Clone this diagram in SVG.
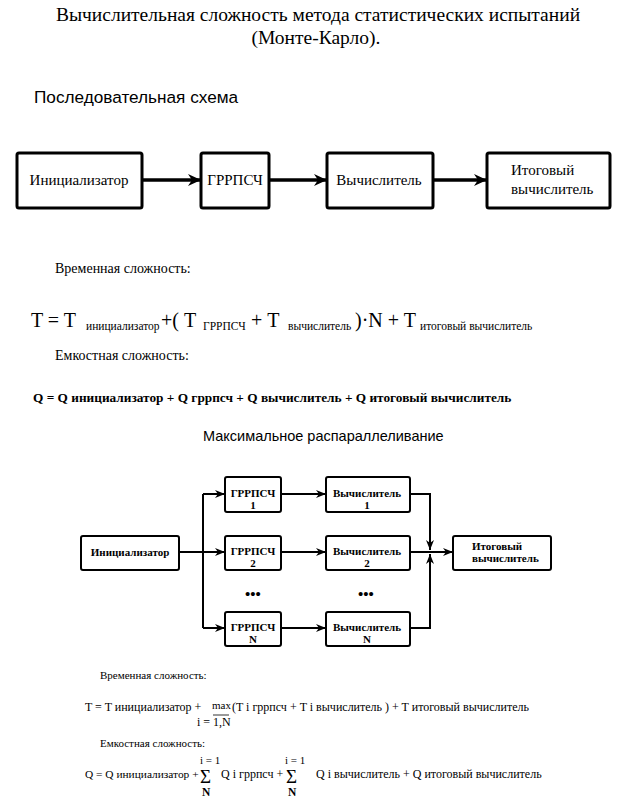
<svg xmlns="http://www.w3.org/2000/svg" width="624" height="797" viewBox="0 0 624 797">
<defs>
<marker id="ah" markerUnits="userSpaceOnUse" markerWidth="14" markerHeight="12" refX="13" refY="6" orient="auto">
<path d="M0,0 L13,6 L0,12 L4,6 z" fill="#000"/>
</marker>
<marker id="ahs" markerUnits="userSpaceOnUse" markerWidth="10" markerHeight="8" refX="10" refY="4" orient="auto">
<path d="M0,0 L10,4 L0,8 L3,4 z" fill="#000"/>
</marker>
</defs>
<style>
.serif{font-family:"Liberation Serif","Times New Roman",serif;fill:#000}
.sans{font-family:"Liberation Sans",Arial,sans-serif;fill:#000}
.b1{fill:#fff;stroke:#000;stroke-width:3}
.b2{fill:#fff;stroke:#000;stroke-width:2}
.c1{stroke:#000;stroke-width:3.5;fill:none}
.c2{stroke:#000;stroke-width:2;fill:none}
.t15{font-size:15px}
.t11{font-size:11px;font-weight:bold}
.mid{text-anchor:middle}
</style>
<rect width="624" height="797" fill="#fff"/>

<g id="title" class="serif" font-size="19.5">
<text x="318" y="21" class="mid">Вычислительная сложность метода статистических испытаний</text>
<text x="316" y="44" class="mid">(Монте-Карло).</text>
</g>
<text class="sans" x="34" y="103" font-size="17.2">Последовательная схема</text>

<g id="connectors-top">
<path class="c1" d="M142,180 H201" marker-end="url(#ah)"/>
<path class="c1" d="M269,180 H327" marker-end="url(#ah)"/>
<path class="c1" d="M433,180 H487" marker-end="url(#ah)"/>
</g>
<g id="s-init"><rect class="b1" x="17" y="153" width="125" height="55" rx="2"/><text class="serif t15 mid" x="79" y="185">Инициализатор</text></g>
<g id="s-gen"><rect class="b1" x="201" y="153" width="68" height="55" rx="2"/><text class="serif t15 mid" x="235" y="185">ГРРПСЧ</text></g>
<g id="s-calc"><rect class="b1" x="327" y="153" width="106" height="55" rx="2"/><text class="serif t15 mid" x="379" y="185">Вычислитель</text></g>
<g id="s-final"><rect class="b1" x="487" y="153" width="123" height="55" rx="2"/><text class="serif t15" x="511" y="175">Итоговый</text><text class="serif t15" x="511" y="194">вычислитель</text></g>

<g id="formulas-top" class="serif">
<text x="55" y="273" font-size="14">Временная сложность:</text>
<text y="327" font-size="20"><tspan x="31">T = T</tspan><tspan x="86" y="330" font-size="11.5">инициализатор</tspan><tspan x="161" y="327">+( T</tspan><tspan x="203" y="330" font-size="11.5">ГРРПСЧ</tspan><tspan x="251" y="327">+ T</tspan><tspan x="288" y="330" font-size="11.5">вычислитель</tspan><tspan x="355" y="327">)·N + T</tspan><tspan x="420" y="330" font-size="11.5">итоговый вычислитель</tspan></text>
<text x="55" y="360" font-size="14">Емкостная сложность:</text>
<text x="33" y="402" font-size="13.3" font-weight="bold">Q = Q инициализатор + Q гррпсч + Q вычислитель + Q итоговый вычислитель</text>
</g>

<text class="sans" x="203" y="441" font-size="14.5">Максимальное распараллеливание</text>

<g id="connectors-par">
<path class="c2" d="M179,552 H225" marker-end="url(#ahs)"/>
<path class="c2" d="M203,494 V628"/>
<path class="c2" d="M203,494 H225" marker-end="url(#ahs)"/>
<path class="c2" d="M203,628 H225" marker-end="url(#ahs)"/>
<path class="c2" d="M281,494 H326" marker-end="url(#ahs)"/>
<path class="c2" d="M281,552 H326" marker-end="url(#ahs)"/>
<path class="c2" d="M281,628 H326" marker-end="url(#ahs)"/>
<path class="c2" d="M410,494 H430 V550" marker-end="url(#ahs)"/>
<path class="c2" d="M410,628 H430 V554" marker-end="url(#ahs)"/>
<path class="c2" d="M410,552 H453" marker-end="url(#ahs)"/>
</g>
<g id="p-init"><rect class="b2" x="81" y="536" width="98" height="34" rx="2"/><text class="serif t11 mid" x="130" y="556">Инициализатор</text></g>
<g id="p-gen1"><rect class="b2" x="225" y="477" width="56" height="35" rx="2"/><text class="serif t11 mid" x="253" y="497">ГРРПСЧ</text><text class="serif t11 mid" x="253" y="509">1</text></g>
<g id="p-gen2"><rect class="b2" x="225" y="536" width="56" height="34" rx="2"/><text class="serif t11 mid" x="253" y="555">ГРРПСЧ</text><text class="serif t11 mid" x="253" y="567">2</text></g>
<g id="p-genN"><rect class="b2" x="225" y="612" width="56" height="34" rx="2"/><text class="serif t11 mid" x="253" y="631">ГРРПСЧ</text><text class="serif t11 mid" x="253" y="643">N</text></g>
<g id="p-calc1"><rect class="b2" x="326" y="477" width="84" height="35" rx="2"/><text class="serif t11 mid" x="367" y="497">Вычислитель</text><text class="serif t11 mid" x="367" y="509">1</text></g>
<g id="p-calc2"><rect class="b2" x="326" y="536" width="84" height="34" rx="2"/><text class="serif t11 mid" x="367" y="555">Вычислитель</text><text class="serif t11 mid" x="367" y="567">2</text></g>
<g id="p-calcN"><rect class="b2" x="326" y="612" width="84" height="34" rx="2"/><text class="serif t11 mid" x="367" y="631">Вычислитель</text><text class="serif t11 mid" x="367" y="643">N</text></g>
<g id="p-final"><rect class="b2" x="453" y="536" width="98" height="34" rx="2"/><text class="serif t11" x="472" y="550">Итоговый</text><text class="serif t11" x="472" y="562">вычислитель</text></g>
<g id="dots" class="serif" font-size="15" font-weight="bold">
<text x="253" y="599" class="mid">•••</text>
<text x="366" y="599" class="mid">•••</text>
</g>

<g id="formulas-par" class="serif" font-size="12">
<text x="100" y="679" font-size="11">Временная сложность:</text>
<text x="85" y="711">T = T инициализатор +</text>
<text x="212" y="709" font-size="11">max</text>
<text x="197" y="726">i = 1,N</text>
<line x1="213" y1="715" x2="229" y2="715" stroke="#000" stroke-width="0.8"/>
<text x="232" y="711">(T i гррпсч + T i вычислитель ) + T итоговый вычислитель</text>
<text x="100" y="747" font-size="11">Емкостная сложность:</text>
<text x="85" y="778" font-size="11.4">Q = Q инициализатор +</text>
<text x="200" y="764" font-size="11">i = 1</text>
<text x="200" y="783" font-size="19">Σ</text>
<text x="202" y="796" font-size="11.5" font-weight="bold">N</text>
<text x="221" y="778">Q i гррпсч +</text>
<text x="285" y="764" font-size="11">i = 1</text>
<text x="286" y="783" font-size="19">Σ</text>
<text x="288" y="796" font-size="11.5" font-weight="bold">N</text>
<text x="316" y="778">Q i вычислитель + Q итоговый вычислитель</text>
</g>
</svg>
